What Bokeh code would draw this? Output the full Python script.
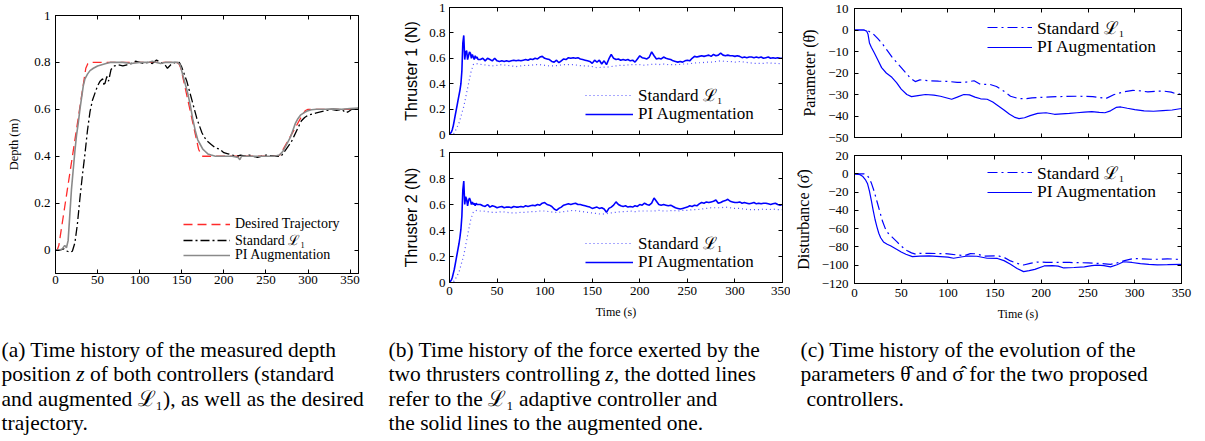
from bokeh.plotting import figure
from bokeh.layouts import row, column
from bokeh.models import (Range1d, LinearAxis, FixedTicker, Legend, LegendItem,
                          CustomJSTickFormatter, Label)
from bokeh.embed import file_html
from bokeh.resources import INLINE

SERIF = "Liberation Serif"

# ---------------- data: panel (a) depth ----------------
a_t_des = [0, 2, 4, 36, 38.5, 41, 144, 146.5, 149, 170, 172.5, 175, 264, 266.5, 269, 294, 297, 300, 360]
a_des = [0, 0, 0.02, 0.775, 0.795, 0.8, 0.8, 0.795, 0.775, 0.43, 0.41, 0.4, 0.4, 0.405, 0.42, 0.58, 0.595, 0.6, 0.6]

a_t_std = [0, 5, 10, 14, 17, 20, 23, 26, 29, 32,
           35, 38, 41, 44, 47, 50, 53, 56, 58, 61,
           63, 66, 70, 75, 80, 85, 90, 95, 100, 105,
           110, 115, 120, 125, 130, 133, 137, 142, 147, 150,
           153, 156, 159, 162, 165, 168, 171, 174, 177, 180,
           185, 190, 195, 200, 205, 210, 215, 220, 225, 230,
           240, 250, 260, 268, 272, 276, 280, 284, 288, 292,
           296, 300, 305, 310, 316, 322, 328, 334, 340, 345,
           348, 352, 356, 360]
a_std = [0, 0, 0.005, -0.005, -0.01, -0.005, 0.03, 0.11, 0.22, 0.32,
         0.41, 0.51, 0.59, 0.64, 0.67, 0.70, 0.72, 0.73, 0.70, 0.74,
         0.72, 0.77, 0.785, 0.79, 0.785, 0.79, 0.795, 0.805, 0.80, 0.795,
         0.80, 0.795, 0.81, 0.80, 0.79, 0.775, 0.79, 0.80, 0.80, 0.78,
         0.75, 0.72, 0.68, 0.64, 0.60, 0.56, 0.53, 0.50, 0.48, 0.465,
         0.45, 0.435, 0.43, 0.415, 0.41, 0.405, 0.40, 0.405, 0.40, 0.405,
         0.395, 0.405, 0.40, 0.40, 0.42, 0.44, 0.46, 0.49, 0.52, 0.55,
         0.565, 0.575, 0.58, 0.585, 0.59, 0.595, 0.6, 0.595, 0.6, 0.585,
         0.59, 0.60, 0.60, 0.605]

a_t_pi = [0, 5, 8, 11, 13, 15, 17, 19, 21, 23,
          25, 27, 29, 31, 33, 35, 38, 41, 45, 50,
          55, 60, 65, 70, 80, 90, 100, 110, 115, 120,
          125, 130, 135, 140, 145, 148, 151, 154, 157, 160,
          163, 166, 169, 172, 175, 178, 181, 185, 190, 200,
          210, 217, 219, 221, 230, 240, 250, 260, 266, 270,
          273, 276, 279, 282, 285, 288, 291, 295, 299, 304,
          310, 320, 330, 340, 350, 360]
a_pi = [0, 0, 0.005, 0.02, 0.01, 0.04, 0.15, 0.26, 0.34, 0.42,
        0.49, 0.54, 0.6, 0.65, 0.70, 0.73, 0.75, 0.765, 0.775, 0.785,
        0.79, 0.795, 0.80, 0.80, 0.80, 0.795, 0.80, 0.80, 0.805, 0.80,
        0.795, 0.80, 0.80, 0.80, 0.80, 0.79, 0.75, 0.71, 0.67, 0.62,
        0.56, 0.51, 0.47, 0.45, 0.43, 0.42, 0.41, 0.405, 0.40, 0.40,
        0.40, 0.395, 0.385, 0.40, 0.40, 0.40, 0.40, 0.40, 0.405, 0.42,
        0.44, 0.46, 0.48, 0.51, 0.54, 0.56, 0.575, 0.585, 0.593, 0.598,
        0.60, 0.60, 0.602, 0.60, 0.603, 0.605]

# ---------------- data: panel (b) thrusters ----------------
b_t_pi = list(range(0, 31)) + [32.5 + 2.5 * k for k in range(128)]
thr1_pi = [0.0, 0.01, 0.02, 0.04, 0.07, 0.11, 0.15, 0.19, 0.23, 0.27,
           0.31, 0.35, 0.40, 0.50, 0.72, 0.78, 0.59, 0.65, 0.66, 0.59,
           0.62, 0.65, 0.64, 0.60, 0.63, 0.61, 0.59, 0.62, 0.60, 0.61, 0.59,
           0.59, 0.60, 0.58, 0.60, 0.59, 0.58, 0.60, 0.58,
           0.575, 0.58, 0.575, 0.58, 0.575, 0.58, 0.585, 0.58,
           0.585, 0.58, 0.585, 0.59, 0.585, 0.595, 0.59, 0.60,
           0.595, 0.61, 0.615, 0.60, 0.595, 0.59, 0.575, 0.57,
           0.585, 0.565, 0.58, 0.595, 0.59, 0.605, 0.60, 0.605,
           0.60, 0.605, 0.595, 0.59, 0.585, 0.58, 0.575, 0.56,
           0.585, 0.57, 0.585, 0.555, 0.58, 0.55, 0.595, 0.63,
           0.60, 0.59, 0.595, 0.585, 0.59, 0.585, 0.59, 0.58,
           0.585, 0.57, 0.595, 0.62, 0.605, 0.60, 0.595, 0.61,
           0.65, 0.62, 0.595, 0.60, 0.595, 0.61, 0.60, 0.595,
           0.59, 0.58, 0.575, 0.57, 0.575, 0.57, 0.58, 0.585,
           0.58, 0.60, 0.615, 0.61, 0.615, 0.62, 0.615, 0.62,
           0.625, 0.615, 0.63, 0.62, 0.625, 0.64, 0.625, 0.62,
           0.625, 0.62, 0.62, 0.615, 0.62, 0.615, 0.605, 0.61,
           0.605, 0.61, 0.61, 0.605, 0.61, 0.605, 0.61, 0.60,
           0.605, 0.61, 0.60, 0.605, 0.60, 0.605, 0.60, 0.60]
thr2_pi = [0.0, 0.01, 0.02, 0.04, 0.07, 0.10, 0.14, 0.18, 0.22, 0.26,
           0.30, 0.35, 0.41, 0.51, 0.71, 0.78, 0.60, 0.66, 0.64, 0.59,
           0.63, 0.65, 0.63, 0.60, 0.62, 0.60, 0.61, 0.59, 0.61, 0.60, 0.60,
           0.60, 0.59, 0.585, 0.60, 0.58, 0.59, 0.585, 0.575,
           0.58, 0.585, 0.575, 0.58, 0.58, 0.575, 0.585, 0.58,
           0.58, 0.585, 0.58, 0.59, 0.585, 0.59, 0.595, 0.59,
           0.60, 0.595, 0.61, 0.615, 0.60, 0.595, 0.585, 0.565,
           0.555, 0.57, 0.58, 0.595, 0.60, 0.605, 0.60, 0.605,
           0.61, 0.60, 0.60, 0.595, 0.59, 0.585, 0.58, 0.57,
           0.575, 0.58, 0.57, 0.575, 0.565, 0.54, 0.57, 0.58,
           0.595, 0.62, 0.60, 0.59, 0.585, 0.59, 0.58, 0.585,
           0.58, 0.59, 0.585, 0.60, 0.595, 0.61, 0.60, 0.595,
           0.61, 0.65, 0.625, 0.60, 0.595, 0.60, 0.595, 0.59,
           0.595, 0.585, 0.575, 0.57, 0.565, 0.57, 0.575, 0.58,
           0.59, 0.585, 0.595, 0.59, 0.605, 0.615, 0.61, 0.62,
           0.615, 0.62, 0.625, 0.635, 0.61, 0.615, 0.625, 0.63,
           0.64, 0.625, 0.62, 0.615, 0.615, 0.62, 0.61, 0.615,
           0.61, 0.605, 0.61, 0.615, 0.605, 0.61, 0.605, 0.61,
           0.61, 0.605, 0.60, 0.605, 0.61, 0.60, 0.595, 0.60]

b_t_std = [0, 5, 10, 15, 20, 22.5, 25, 27.5, 30] + [35 + 5 * k for k in range(64)]
thr1_std = [0, 0.01, 0.09, 0.22, 0.40, 0.49, 0.55, 0.56, 0.555,
            0.55, 0.545, 0.54, 0.545, 0.55, 0.545, 0.54, 0.535, 0.54, 0.545,
            0.545, 0.55, 0.55, 0.545, 0.54, 0.54, 0.545, 0.55, 0.55, 0.55,
            0.545, 0.54, 0.54, 0.535, 0.525, 0.53, 0.53, 0.535, 0.54, 0.545,
            0.545, 0.55, 0.55, 0.55, 0.545, 0.55, 0.555, 0.55, 0.555, 0.55,
            0.55, 0.55, 0.555, 0.555, 0.56, 0.565, 0.565, 0.57, 0.57, 0.575,
            0.58, 0.575, 0.575, 0.57, 0.575, 0.57, 0.565, 0.56, 0.56, 0.56,
            0.565, 0.56, 0.56, 0.555]
thr2_std = [0, 0.01, 0.08, 0.21, 0.40, 0.49, 0.54, 0.555, 0.55,
            0.55, 0.545, 0.54, 0.54, 0.545, 0.54, 0.535, 0.535, 0.54, 0.54,
            0.545, 0.545, 0.55, 0.55, 0.545, 0.54, 0.54, 0.545, 0.55, 0.555,
            0.55, 0.545, 0.54, 0.535, 0.53, 0.525, 0.53, 0.535, 0.54, 0.545,
            0.545, 0.55, 0.545, 0.55, 0.55, 0.55, 0.55, 0.555, 0.55, 0.55,
            0.555, 0.55, 0.555, 0.555, 0.56, 0.56, 0.565, 0.57, 0.575, 0.575,
            0.575, 0.58, 0.575, 0.57, 0.57, 0.565, 0.56, 0.56, 0.56, 0.565,
            0.56, 0.565, 0.56, 0.56]

# ---------------- data: panel (c) parameters ----------------
c_t_th_std = [0, 10, 14, 20, 25, 30, 35, 40, 47, 55,
              60, 65, 70, 80, 90, 100, 110, 120, 128, 135,
              145, 152, 160, 167, 175, 182, 190, 200, 210, 225,
              240, 255, 263, 269, 278, 288, 298, 306, 314, 324,
              332, 339, 346, 350]
theta_std = [0, 0, -0.2, -1.8, -4, -6.5, -9.5, -12.5, -16, -20,
             -22.5, -24, -23.2, -23.6, -23.8, -23.9, -24.4, -24.2, -23.6, -25.3,
             -25.3, -26.3, -28.5, -30.8, -31.8, -32, -31.6, -31.3, -31.1, -30.9,
             -30.8, -31, -31.4, -31.9, -30, -28.8, -28.1, -28.3, -28.8, -28.4,
             -28.5, -28.9, -30, -29.6]
c_t_th_pi = [0, 10, 13, 14.5, 16, 18, 21, 25, 29, 34,
             40, 45, 50, 56, 61, 68, 76, 85, 92, 98,
             104, 110, 117, 123, 129, 135, 142, 148, 154, 160,
             166, 171, 176, 182, 188, 196, 205, 214, 222, 230,
             238, 246, 254, 262, 268, 274, 280, 285, 292, 300,
             310, 320, 330, 340, 350]
theta_pi = [0, 0, -0.5, -2, -6, -8, -10.5, -14, -17.5, -20,
            -22, -24.5, -27.5, -30, -31, -30.5, -30, -30.3, -30.8, -31.5,
            -32.2, -31.2, -30, -30.2, -31.2, -32, -32.2, -33.5, -35.3, -37.2,
            -39.2, -40.5, -41.2, -40.8, -39.8, -38.8, -38.5, -39.2, -39, -38.8,
            -38.5, -38.2, -38, -38.3, -38.5, -37.6, -36, -35.8, -36.4, -37,
            -37.6, -37.8, -37.5, -37.2, -36.5]
c_t_sg_std = [0, 10, 13, 15.5, 18, 21, 24, 27, 30, 33,
              36, 40, 45, 50, 56, 61, 66, 70, 80, 92,
              100, 110, 118, 124, 130, 139, 150, 155, 161, 167,
              174, 181, 188, 196, 205, 217, 230, 240, 250, 260,
              268, 274, 281, 289, 299, 308, 317, 326, 335, 343,
              350]
sigma_std = [0, 0, -1, -4.5, -10, -19, -30, -41, -52, -60,
             -65, -69, -74, -79, -84, -86.5, -88, -87, -87, -87.3,
             -87.5, -88.8, -89.5, -87.3, -87.5, -90, -89.8, -90, -92, -95.3,
             -98, -99.8, -98, -96.5, -96.8, -97, -97, -97.2, -97.5, -98,
             -98.5, -99, -97.5, -95, -92.6, -93, -93.5, -93.5, -93, -93.4,
             -93.8]
c_t_sg_pi = [0, 6, 9, 12, 14, 16, 18, 20, 22, 24,
             26, 28, 31, 35, 39, 45, 50, 55, 62, 70,
             80, 92, 100, 106, 114, 121, 131, 142, 153, 160,
             167, 174, 181, 187, 193, 203, 212, 218, 224, 235,
             246, 254, 260, 267, 274, 281, 288, 297, 306, 315,
             324, 335, 350]
sigma_pi = [0, -1, -3, -7, -11, -19, -29, -40, -50, -58,
            -65, -70, -74.5, -77, -79, -82.5, -85.5, -88, -90.6, -90,
            -89.8, -90.6, -91.2, -92.4, -91, -89.9, -90.2, -92.4, -92.6, -95,
            -99, -103.5, -107, -106, -104.5, -100.8, -100.5, -101, -103, -102.5,
            -101.8, -100.5, -99.8, -100.5, -101.8, -99.5, -96.2, -97, -98.2, -99,
            -99.6, -99.4, -99]

x_ticks = [0, 50, 100, 150, 200, 250, 300, 350]
depth_ticks = [0, 0.2, 0.4, 0.6, 0.8, 1]
thr_ticks = [0, 0.2, 0.4, 0.6, 0.8, 1]
theta_ticks = [10, 0, -10, -20, -30, -40, -50]
sigma_ticks = [20, 0, -20, -40, -60, -80, -100, -120]

L1 = "Standard \u2112\u2081"
PI = "PI Augmentation"

# caption lines: (upright prefix, italic symbol, upright rest)
captions_a = [("(a) Time history of the measured depth", "", ""),
              ("position ", "z", " of both controllers (standard"),
              ("and augmented \u2112\u2081), as well as the desired", "", ""),
              ("trajectory.", "", "")]
captions_b = [("(b) Time history of the force exerted by the", "", ""),
              ("two thrusters controlling ", "z", ", the dotted lines"),
              ("refer to the \u2112\u2081 adaptive controller and", "", ""),
              ("the solid lines to the augmented one.", "", "")]
captions_c = [("(c) Time history of the evolution of the", "", ""),
              ("parameters \u03b8\u0302 and \u03c3\u0302 for the two proposed", "", ""),
              ("controllers.", "", "")]
# advance widths (em) of the upright prefixes that precede an italic z, of italic z, of a space
prefix_em = {"position ": 3.473, "two thrusters controlling ": 10.083}
z_em = 0.389
space_em = 0.25

FMT_CODE = "return tick < 0 ? '\\u2212' + String(-tick) : String(tick);"
TOP_H = 327
ROW_H = 26


def make_fig(width, height, xr, yr, bl, br, bt, bb):
    p = figure(width=width, height=height, x_range=Range1d(*xr), y_range=Range1d(*yr),
               output_backend="svg", toolbar_location=None,
               min_border_left=bl, min_border_right=br, min_border_top=bt, min_border_bottom=bb)
    p.xgrid.visible = False
    p.ygrid.visible = False
    p.outline_line_color = "black"
    p.outline_line_width = 1
    p.outline_line_alpha = 1
    p.background_fill_color = "white"
    p.border_fill_color = "white"
    return p


def style_axis(ax, ticks, size="13px", standoff=5, show=True):
    ax.ticker = FixedTicker(ticks=ticks)
    ax.major_tick_in = 4
    ax.major_tick_out = 0
    ax.minor_tick_line_color = None
    ax.axis_line_color = "black"
    ax.major_tick_line_color = "black"
    ax.major_label_text_font = SERIF
    ax.major_label_text_color = "black"
    if show:
        ax.formatter = CustomJSTickFormatter(code=FMT_CODE)
        ax.major_label_text_font_size = size
        ax.major_label_standoff = standoff
    else:
        ax.formatter = CustomJSTickFormatter(code="return '';")
        ax.major_label_text_font_size = "2px"
        ax.major_label_standoff = 0


def box_axes(p, xt, yt):
    r = LinearAxis()
    style_axis(r, yt, show=False)
    p.add_layout(r, "right")
    t = LinearAxis()
    style_axis(t, xt, show=False)
    p.add_layout(t, "above")


def axis_label(ax, text, font, size, standoff):
    ax.axis_label = text
    ax.axis_label_text_font = font
    ax.axis_label_text_font_size = size
    ax.axis_label_text_font_style = "normal"
    ax.axis_label_text_color = "black"
    ax.axis_label_standoff = standoff


def add_legend(p, items, x, centers, size, glyph_w):
    # one single-row legend per entry; centers are row centres above the frame bottom (px)
    for (lab, rend), c in zip(items, centers):
        lg = Legend(items=[LegendItem(label=lab, renderers=[rend])],
                    location=(x, c - ROW_H / 2), glyph_width=glyph_w, glyph_height=ROW_H,
                    label_height=ROW_H, label_standoff=5, spacing=0, padding=0, margin=0,
                    border_line_alpha=0, background_fill_alpha=0,
                    label_text_font=SERIF, label_text_font_size=size,
                    label_text_color="black")
        p.add_layout(lg)


# ---------------- panel (a) ----------------
pa = make_fig(370, TOP_H, (0, 360), (-0.1, 1), 55, 12, 15, TOP_H - 273)
style_axis(pa.xaxis[0], x_ticks, standoff=2)
style_axis(pa.yaxis[0], depth_ticks, standoff=5)
axis_label(pa.yaxis[0], "Depth (m)", SERIF, "12.5px", 10)
box_axes(pa, x_ticks, depth_ticks)
r_des = pa.line(a_t_des, a_des, color="#ff2a2a", line_dash="9 5", line_width=1.3)
r_std = pa.line(a_t_std, a_std, color="black", line_dash="9 3 2 3", line_width=1.3)
r_pi = pa.line(a_t_pi, a_pi, color="#8a8a8a", line_width=1.6)
add_legend(pa, [("Desired Trajectory", r_des), (L1, r_std), (PI, r_pi)],
           128, [49, 33.5, 18], "14px", 47)

# ---------------- panel (b) ----------------
def thruster_fig(height, bt, fh, pi_vals, std_vals, label, bottom_labels, centers):
    p = make_fig(420, height, (0, 350), (0, 1), 79, 8, bt, height - bt - fh)
    style_axis(p.xaxis[0], x_ticks, standoff=4, show=bottom_labels)
    style_axis(p.yaxis[0], thr_ticks, standoff=4)
    axis_label(p.yaxis[0], label, "Liberation Sans", "16px", 6)
    if bottom_labels:
        axis_label(p.xaxis[0], "Time (s)", SERIF, "12px", 7)
    box_axes(p, x_ticks, thr_ticks)
    rs = p.line(b_t_std, std_vals, color="#5252ff", line_dash="1 3", line_width=1.2)
    rp = p.line(b_t_pi, pi_vals, color="#0000ff", line_width=1.6)
    add_legend(p, [(L1, rs), (PI, rp)], 136, centers, "17px", 48)
    return p


pb1 = thruster_fig(143, 7, 127, thr1_pi, thr1_std, "Thruster 1 (N)", False, [39.5, 20.5])
pb2 = thruster_fig(TOP_H - 143, 9, 130, thr2_pi, thr2_std, "Thruster 2 (N)",
                   True, [39.5, 20.3])

# ---------------- panel (c) ----------------
def param_fig(height, bt, bb, yr, yt, t_std, v_std, t_pi, v_pi, label, bottom_labels, centers):
    p = make_fig(410, height, (0, 350), yr, 64, 19, bt, bb)
    style_axis(p.xaxis[0], x_ticks, standoff=5, show=bottom_labels)
    style_axis(p.yaxis[0], yt, standoff=6)
    axis_label(p.yaxis[0], label, SERIF, "16px", 7)
    if bottom_labels:
        axis_label(p.xaxis[0], "Time (s)", SERIF, "12px", 7)
    box_axes(p, x_ticks, yt)
    rs = p.line(t_std, v_std, color="#0000ff", line_dash="10 4 2 4", line_width=1.2)
    rp = p.line(t_pi, v_pi, color="#0000ff", line_width=1.2)
    add_legend(p, [(L1, rs), (PI, rp)], 133, centers, "17.5px", 45)
    return p


pc1 = param_fig(146, 8, 9, (-50, 10), theta_ticks, c_t_th_std, theta_std, c_t_th_pi, theta_pi,
                "Parameter (\u03b8\u0302)", False, [110.3, 90.3])
pc2 = param_fig(TOP_H - 146, 9, TOP_H - 146 - 9 - 128, (-120, 20), sigma_ticks, c_t_sg_std,
                sigma_std, c_t_sg_pi, sigma_pi, "Disturbance (\u03c3\u0302)", True, [111.5, 91.5])

# ---------------- captions ----------------
CAP_BOTTOM = 440
CAP_PX = 21.5
cap = figure(width=1200, height=CAP_BOTTOM - TOP_H, x_range=Range1d(0, 1200),
             y_range=Range1d(CAP_BOTTOM, TOP_H),
             x_axis_type=None, y_axis_type=None, min_border=0, output_backend="svg",
             toolbar_location=None)
cap.outline_line_color = None
cap.xgrid.visible = False
cap.ygrid.visible = False
line_y = [349, 373, 398, 422]


def cap_text(x, y, txt, style="normal"):
    cap.add_layout(Label(x=x, y=y, text=txt, text_font=SERIF, text_font_style=style,
                         text_font_size=f"{CAP_PX}px", text_baseline="middle",
                         text_align="left", text_color="black"))


for x0, lines in ((1, captions_a), (388, captions_b), (800, captions_c)):
    for i, (pre, ital, rest) in enumerate(lines):
        xx = x0 + (6 if (x0 == 800 and i == 2) else 0)
        cap_text(xx, line_y[i], pre.rstrip())
        if ital:
            xi = xx + prefix_em[pre] * CAP_PX
            cap_text(xi, line_y[i], ital, "italic")
            xr = xi + z_em * CAP_PX
            if rest.startswith(" "):
                xr += space_em * CAP_PX
            cap_text(xr, line_y[i], rest.strip())

top = row(pa, column(pb1, pb2, spacing=0), column(pc1, pc2, spacing=0), spacing=0)
layout = column(top, cap, spacing=0)

open("out.html", "w").write(file_html(layout, INLINE))
